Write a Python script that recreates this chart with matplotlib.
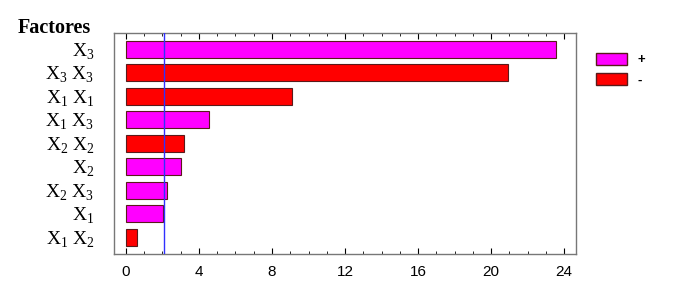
import matplotlib as mpl
import matplotlib.pyplot as plt
from matplotlib.patches import Patch
from matplotlib.ticker import MultipleLocator

mpl.use('Agg')
plt.rcParams['mathtext.fontset'] = 'custom'
plt.rcParams['mathtext.rm'] = 'Liberation Serif'

factors = ['X$_3$', 'X$_3$ X$_3$', 'X$_1$ X$_1$', 'X$_1$ X$_3$', 'X$_2$ X$_2$',
           'X$_2$', 'X$_2$ X$_3$', 'X$_1$', 'X$_1$ X$_2$']
effects = [23.55, 20.9, 9.1, 4.55, 3.2, 3.0, 2.25, 2.05, 0.6]
signs = ['+', '-', '-', '+', '-', '+', '+', '+', '-']
critical = 2.08

colors = {'+': '#ff00ff', '-': '#ff0000'}

fig = plt.figure(figsize=(6.86, 2.93), dpi=100)
ax = fig.add_axes([0.166, 0.133, 0.674, 0.754])

pos = list(range(len(factors)))
ax.barh(pos, effects, height=0.72, color=[colors[s] for s in signs],
        edgecolor='#5a1a1a', linewidth=0.8, zorder=2)
ax.axvline(critical, color='#3030ff', linewidth=1.0, zorder=3)

ax.set_xlim(-0.66, 24.66)
ax.set_ylim(8.72, -0.68)
ax.set_yticks(pos)
ax.set_yticklabels(factors, family='Liberation Serif', fontsize=14)
ax.tick_params(axis='y', length=0, pad=14)

ax.set_xticks(range(0, 25, 4))
ax.xaxis.set_minor_locator(MultipleLocator(1))
ax.tick_params(axis='x', which='both', direction='in', top=True, labelsize=11, pad=8)
ax.tick_params(axis='x', which='major', length=4)
ax.tick_params(axis='x', which='minor', length=2)
for lab in ax.get_xticklabels():
    lab.set_family('Liberation Sans')

for s in ax.spines.values():
    s.set_color('#777777')
    s.set_linewidth(1.0)

fig.text(0.026, 0.905, 'Factores', family='Liberation Serif', fontweight='bold',
         fontsize=14.5, va='center', ha='left')

handles = [Patch(facecolor=colors['+'], edgecolor='#5a1a1a', label='+'),
           Patch(facecolor=colors['-'], edgecolor='#5a1a1a', label='-')]
leg = fig.legend(handles=handles, loc='upper left', bbox_to_anchor=(0.852, 0.86),
                 frameon=False, handlelength=2.3, handleheight=1.0, labelspacing=0.5,
                 prop={'family': 'Liberation Sans', 'weight': 'bold', 'size': 9.5})

fig.savefig('out.png', dpi=100)
